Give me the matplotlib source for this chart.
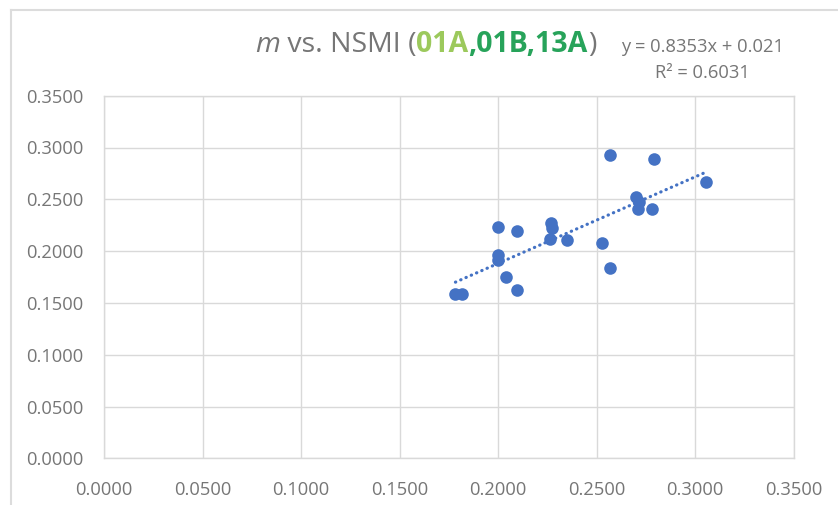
import matplotlib.pyplot as plt
from matplotlib.lines import Line2D

# data
nsmi = [0.2571, 0.2791, 0.3058, 0.2702, 0.2715, 0.2710, 0.2783, 0.2001, 0.2094, 0.2270, 0.2275,
        0.2266, 0.2351, 0.2529, 0.2571, 0.2001, 0.2001, 0.2043, 0.2094, 0.1784, 0.1818]
m_vals = [0.2928, 0.2886, 0.2670, 0.2525, 0.2477, 0.2403, 0.2403, 0.2230, 0.2197, 0.2268, 0.2220,
          0.2114, 0.2107, 0.2075, 0.1834, 0.1962, 0.1914, 0.1753, 0.1622, 0.1583, 0.1583]
slope = 0.8353
intercept = 0.021
r2 = 0.6031
ticks = [0.0, 0.05, 0.10, 0.15, 0.20, 0.25, 0.30, 0.35]

grey = '#767676'
blue = '#4472C4'
gridc = '#d9d9d9'
font = 'Open Sans'

fig = plt.figure(figsize=(8.38, 5.05), dpi=100)
ax = fig.add_axes([104/838, 1-458.3/505, (793.5-104)/838, (458.3-95.7)/505])

ax.scatter(nsmi, m_vals, s=82, color=blue, zorder=3, linewidths=0)
xs = [min(nsmi), max(nsmi)]
ax.plot(xs, [slope*x + intercept for x in xs], color=blue, lw=2.3,
        linestyle=(0, (0.1, 1.7)), dash_capstyle='round', zorder=4)

ax.set_xlim(0, 0.35)
ax.set_ylim(0, 0.35)
ax.set_xticks(ticks)
ax.set_yticks(ticks)
ax.set_xticklabels(['%.4f' % t for t in ticks], fontfamily=font, fontsize=13.2, color=grey)
ax.set_yticklabels(['%.4f' % t for t in ticks], fontfamily=font, fontsize=13.2, color=grey)
ax.tick_params(length=0, pad=16)
ax.tick_params(axis='y', pad=15)
ax.grid(True, color=gridc, lw=1.0, zorder=0)
ax.set_axisbelow(True)
for sp in ax.spines.values():
    sp.set_color(gridc)
    sp.set_linewidth(1.0)

# chart frame (cropped at right / bottom)
fig.add_artist(Line2D([11/838, 1], [1-10/505, 1-10/505], color='#dcdcdc', lw=1.5))
fig.add_artist(Line2D([11/838, 11/838], [0, 1-10/505], color='#dcdcdc', lw=1.5))

# multi-colour title built piece by piece
pieces = [('m', grey, 'normal', 'italic'),
          (' vs. NSMI (', grey, 'normal', 'normal'),
          ('01A', '#9cc95c', 'bold', 'normal'),
          (',01B,13A', '#27a35a', 'bold', 'normal'),
          (')', grey, 'normal', 'normal')]
fig.canvas.draw()
r = fig.canvas.get_renderer()
x0 = 255/838
for txt, col, wt, st in pieces:
    t = fig.text(x0, 1-52/505, txt, color=col, fontweight=wt, fontstyle=st,
                 fontfamily=font, fontsize=20.5, va='baseline', ha='left')
    bb = t.get_window_extent(renderer=r)
    x0 = bb.x1 / (fig.get_figwidth()*fig.dpi)

fig.text(702/838, 1-51.7/505, 'y = %.4fx + %.3f' % (slope, intercept), color=grey,
         fontfamily=font, fontsize=13.2, ha='center', va='baseline')
fig.text(702/838, 1-78.3/505, 'R² = %.4f' % r2, color=grey,
         fontfamily=font, fontsize=13.2, ha='center', va='baseline')

plt.savefig('out.png', dpi=100)
